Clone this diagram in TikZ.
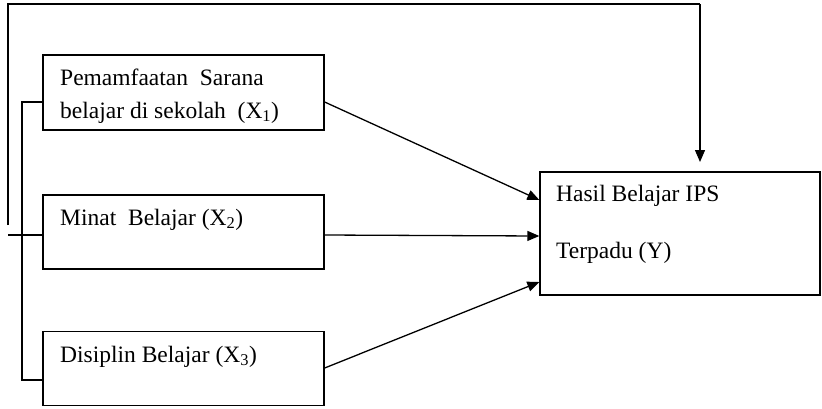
\documentclass[tikz,border=0pt]{standalone}
\usepackage{fontspec}
\setmainfont{Liberation Serif}
\usetikzlibrary{arrows.meta}
\newcommand{\sbs}[1]{\textsubscript{#1}}
\begin{document}
\begin{tikzpicture}[x=1pt,y=-1pt,
  box/.style={draw,line width=1.3pt,rectangle,inner sep=0pt},
  lbl/.style={anchor=base west,inner sep=0pt,font=\fontsize{23.5}{28}\selectfont},
  ln/.style={line width=1.3pt},
  arr/.style={line width=1.3pt,-{Triangle[length=12pt,width=10pt]}}]
\useasboundingbox (0,0) rectangle (822,408);
% boxes
\node[box,minimum width=281pt,minimum height=75pt] (x1) at (183.5,92.5) {};
\node[box,minimum width=281pt,minimum height=74pt] (x2) at (183.5,232) {};
\node[box,minimum width=281pt,minimum height=74pt] (x3) at (183.5,368.5) {};
\node[box,minimum width=280pt,minimum height=123pt] (y) at (680,233.5) {};
% texts
\node[lbl] (t1a) at (60,85) {Pemamfaatan\ \ Sarana};
\node[lbl] (t1b) at (60,118) {belajar di sekolah\ \ (X\sbs{1})};
\node[lbl] (t2) at (60,225) {Minat\ \ Belajar (X\sbs{2})};
\node[lbl] (t3) at (60,362) {Disiplin Belajar (X\sbs{3})};
\node[lbl] (ty1) at (556,201) {Hasil Belajar IPS};
\node[lbl] (ty2) at (556,258) {Terpadu (Y)};
% coordinates
\coordinate (ls) at (8,225);
\coordinate (lt) at (8,4);
\coordinate (rt) at (700,4);
\coordinate (rb) at (700,162);
\coordinate (b1) at (22,102);
\coordinate (b3) at (22,380);
\coordinate (l2) at (8,235);
% lines
\draw[ln] (ls) -- (lt) -- (rt);
\draw[arr] (rt) -- (rb);
\draw[ln] (x1.west |- b1) -- (b1) -- (b3) -- (x3.west |- b3);
\draw[ln] (l2) -- (x2.west |- l2);
% arrows
\draw[arr] (x1.east |- 0,102) -- (y.west |- 0,200);
\draw[arr] (x2.east |- 0,235) -- (y.west |- 0,236);
\draw[arr] (x3.east |- 0,368) -- (y.west |- 0,282);
\end{tikzpicture}
\end{document}
